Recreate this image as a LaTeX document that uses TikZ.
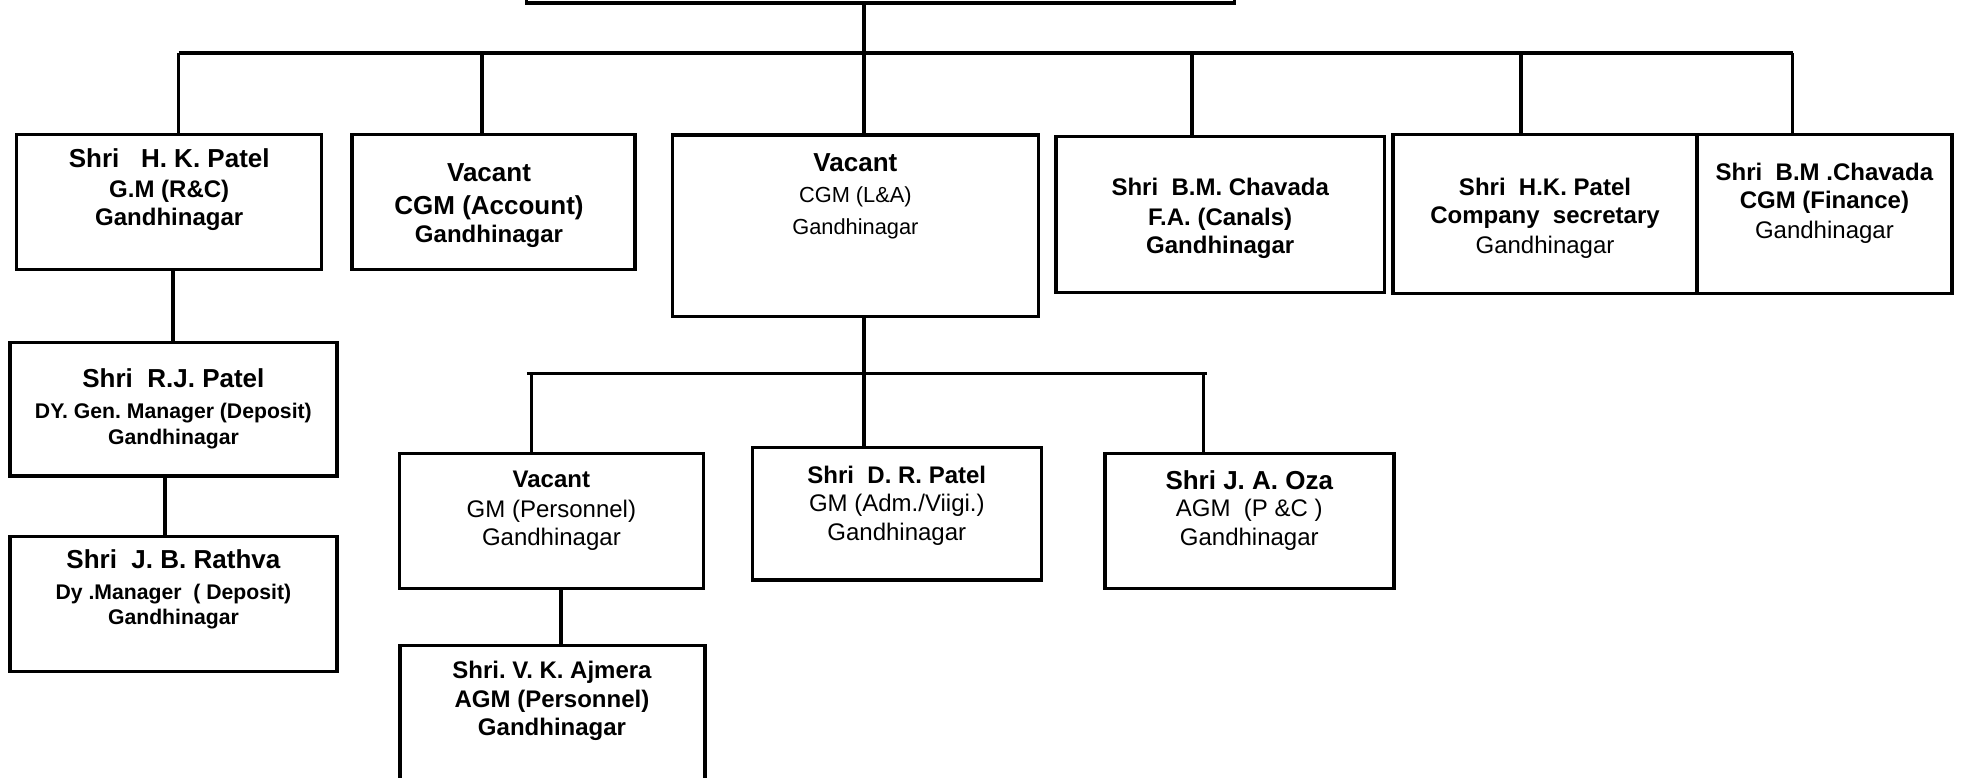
\documentclass[tikz,border=0pt]{standalone}
\usepackage{fontspec}
\setmainfont{Liberation Sans}
\usetikzlibrary{fit}
\frenchspacing
\begin{document}
\begin{tikzpicture}[x=1pt,y=-1pt,
  box/.style={draw, line width=3.4pt, inner sep=0pt, outer sep=0pt, rectangle},
  conn/.style={line width=3.4pt},
  big/.style={anchor=base, inner sep=0pt, font=\fontsize{26}{30}\selectfont\bfseries},
  bf/.style={anchor=base, inner sep=0pt, font=\fontsize{24}{28}\selectfont\bfseries},
  rg/.style={anchor=base, inner sep=0pt, font=\fontsize{24}{28}\selectfont},
  sbf/.style={anchor=base, inner sep=0pt, font=\fontsize{21.2}{25}\selectfont\bfseries},
  srg/.style={anchor=base, inner sep=0pt, font=\fontsize{21.8}{25}\selectfont}]
\useasboundingbox (0,0) rectangle (1962,777);
\clip (0,0) rectangle (1962,777);

% boxes
\node[box, fit={(526.5,-60) (1234.7,3)}] (top) {};
\node[box, fit={(16.7,134.3) (321.7,269.3)}] (b1) {};
\node[box, fit={(352,134.3) (635,269.3)}] (b2) {};
\node[box, fit={(672.3,135) (1038.4,316.7)}] (b3) {};
\node[box, fit={(1056,136.7) (1384.4,292.7)}] (b4) {};
\node[box, fit={(1393,134.3) (1696.8,293.3)}] (b5) {};
\node[box, fit={(1696.8,134.3) (1952,293.3)}] (b6) {};
\node[box, fit={(9.8,342.7) (337,476)}] (b7) {};
\node[box, fit={(9.8,536.7) (337,671.7)}] (b8) {};
\node[box, fit={(399.6,453.3) (703.3,588.3)}] (b9) {};
\node[box, fit={(752.7,447.3) (1041.5,580)}] (b10) {};
\node[box, fit={(1105,453.3) (1394,588.3)}] (b11) {};
\node[box, fit={(400,645.7) (705,820)}] (b12) {};

% first level bus
\coordinate (busL) at (178.6,53);
\coordinate (busR) at (1792.6,53);
\coordinate (d1) at (178.6,53);
\coordinate (d2) at (482,53);
\coordinate (d3) at (864,53);
\coordinate (d4) at (1192,53);
\coordinate (d5) at (1520.8,53);
\coordinate (d6) at (1792.6,53);
\draw[conn] (busL) -- (busR);
\draw[conn] (top.south -| d3) -- (d3 |- b3.north);
\draw[conn] (d1) -- (d1 |- b1.north);
\draw[conn] (d2) -- (d2 |- b2.north);
\draw[conn] (d4) -- (d4 |- b4.north);
\draw[conn] (d5) -- (d5 |- b5.north);
\draw[conn] (d6) -- (d6 |- b6.north);

% second level bus
\coordinate (bus2L) at (526.8,373.3);
\coordinate (bus2R) at (1206.7,373.3);
\coordinate (e1) at (531.3,373.3);
\coordinate (e2) at (863.8,373.3);
\coordinate (e3) at (1203.6,373.3);
\draw[conn] (bus2L) -- (bus2R);
\draw[conn] (e2 |- b3.south) -- (e2 |- b10.north);
\draw[conn] (e1) -- (e1 |- b9.north);
\draw[conn] (e3) -- (e3 |- b11.north);

% direct links
\coordinate (c17) at (173,300);
\coordinate (c78) at (165,500);
\coordinate (c912) at (561,610);
\draw[conn] (c17 |- b1.south) -- (c17 |- b7.north);
\draw[conn] (c78 |- b7.south) -- (c78 |- b8.north);
\draw[conn] (c912 |- b9.south) -- (c912 |- b12.north);

% texts
\node[big] (t1a) at (169.2,167.4) {Shri\ \ \ H. K. Patel};
\node[bf]  (t1b) at (169.2,197.5) {G.M (R\&C)};
\node[bf]  (t1c) at (169.2,225.5) {Gandhinagar};

\node[big] (t2a) at (489,181) {Vacant};
\node[big] (t2b) at (489,214.4) {CGM (Account)};
\node[bf]  (t2c) at (489,242.6) {Gandhinagar};

\node[big] (t3a) at (855.4,171.7) {Vacant};
\node[srg] (t3b) at (855.4,202.8) {CGM (L\&A)};
\node[srg] (t3c) at (855.4,234.5) {Gandhinagar};

\node[bf] (t4a) at (1220.2,195.3) {Shri\ \ B.M. Chavada};
\node[bf] (t4b) at (1220.2,225.3) {F.A. (Canals)};
\node[bf] (t4c) at (1220.2,253.6) {Gandhinagar};

\node[bf] (t5a) at (1545,195.3) {Shri\ \ H.K. Patel};
\node[bf] (t5b) at (1545,223.6) {Company\ \ secretary};
\node[rg] (t5c) at (1545,253.6) {Gandhinagar};

\node[bf] (t6a) at (1824.4,180.3) {Shri\ \ B.M .Chavada};
\node[bf] (t6b) at (1824.4,208.6) {CGM (Finance)};
\node[rg] (t6c) at (1824.4,238.6) {Gandhinagar};

\node[big] (t7a) at (173.4,387.7) {Shri\ \ R.J. Patel};
\node[sbf] (t7b) at (173.4,418.4) {DY. Gen. Manager (Deposit)};
\node[sbf] (t7c) at (173.4,444.3) {Gandhinagar};

\node[big] (t8a) at (173.4,568.8) {Shri\ \ J. B. Rathva};
\node[sbf] (t8b) at (173.4,599.4) {Dy .Manager\ \ ( Deposit)};
\node[sbf] (t8c) at (173.4,624.3) {Gandhinagar};

\node[bf] (t9a) at (551.4,487.8) {Vacant};
\node[rg] (t9b) at (551.4,517.6) {GM (Personnel)};
\node[rg] (t9c) at (551.4,545.9) {Gandhinagar};

\node[bf] (t10a) at (896.8,483.6) {Shri\ \ D. R. Patel};
\node[rg] (t10b) at (896.8,511.7) {GM (Adm./Viigi.)};
\node[rg] (t10c) at (896.8,540.3) {Gandhinagar};

\node[big] (t11a) at (1249.3,489.4) {Shri J. A. Oza};
\node[rg]  (t11b) at (1249.3,516.8) {AGM\ \ (P \&C )};
\node[rg]  (t11c) at (1249.3,545.3) {Gandhinagar};

\node[bf] (t12a) at (552,678.6) {Shri. V. K. Ajmera};
\node[bf] (t12b) at (552,707.9) {AGM (Personnel)};
\node[bf] (t12c) at (552,735.3) {Gandhinagar};
\end{tikzpicture}
\end{document}
